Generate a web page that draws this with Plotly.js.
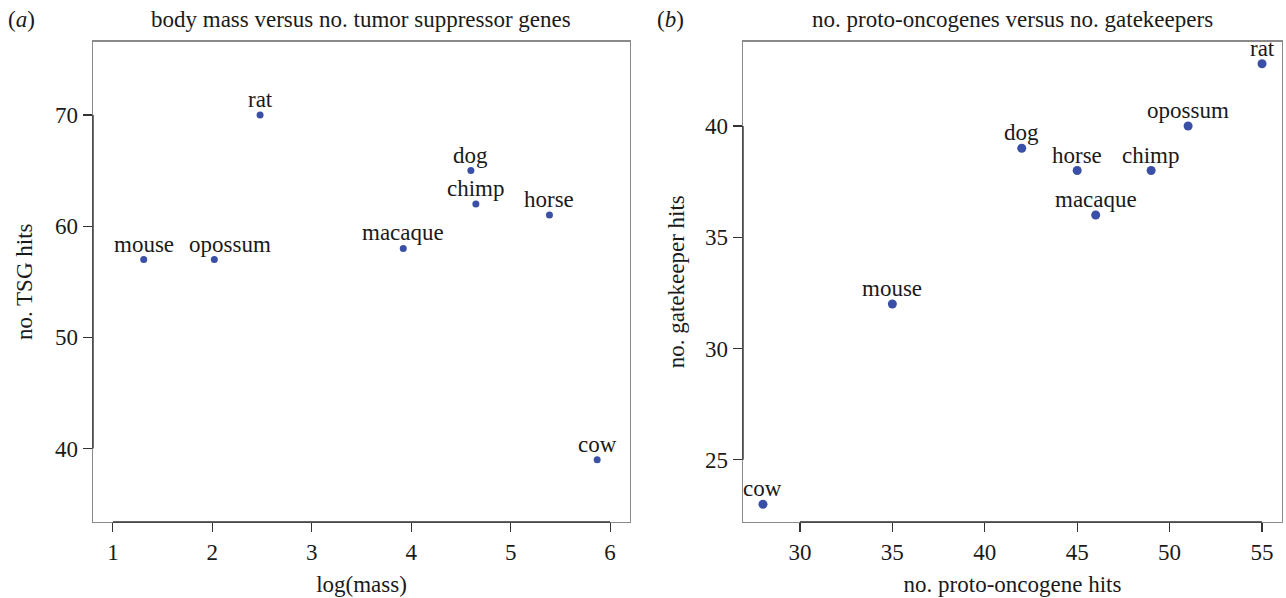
<!DOCTYPE html>
<html>
<head>
<meta charset="utf-8">
<script src="https://cdn.plot.ly/plotly-3.0.1.min.js"></script>
<style>html,body{margin:0;padding:0;background:#fff;}#chart{width:1286px;height:598px;}</style>
</head>
<body>
<div id="chart"></div>
<script>
// ---- data ----
const species = ['mouse', 'opossum', 'rat', 'macaque', 'dog', 'chimp', 'horse', 'cow'];
const logMass = [1.31, 2.02, 2.48, 3.92, 4.60, 4.65, 5.39, 5.87];
const tsgHits = [57, 57, 70, 58, 65, 62, 61, 39];
const protoOncogeneHits = [35, 51, 55, 46, 42, 49, 45, 28];
const gatekeeperHits = [32, 40, 42.8, 36, 39, 38, 38, 23];

const leftXTicks = [1, 2, 3, 4, 5, 6];
const leftYTicks = [40, 50, 60, 70];
const rightXTicks = [30, 35, 40, 45, 50, 55];
const rightYTicks = [25, 30, 35, 40];

const panelTitles = ['body mass versus no. tumor suppressor genes', 'no. proto-oncogenes versus no. gatekeepers'];
const panelTags = ['(<i>a</i>)', '(<i>b</i>)'];
const axisTitles = {
  x1: 'log(mass)', y1: 'no. TSG hits',
  x2: 'no. proto-oncogene hits', y2: 'no. gatekeeper hits'
};

// ---- styles ----
const FONT = "'Liberation Serif', 'Times New Roman', serif";
const TXT = '#1a1a1a';
const DOT = '#3a50a6';
const FS = 23;
// horizontal label nudges (pixels) so neighbouring labels do not collide
const leftLabelShift = [0, 16, 0, 0, 0, 0, 0, 0];
const rightLabelShift = [0, 0, 0, 0, 0, 0, 0, 0];

const W = 1286, H = 598;
const leftDom = [93 / W, 630 / W];
const rightDom = [743 / W, 1282 / W];
const yDom = [(H - 522) / H, (H - 41.5) / H];

const traces = [
  {
    x: logMass, y: tsgHits, xaxis: 'x', yaxis: 'y',
    type: 'scatter', mode: 'markers',
    marker: {color: DOT, size: 7}, cliponaxis: false, hoverinfo: 'skip'
  },
  {
    x: protoOncogeneHits, y: gatekeeperHits, xaxis: 'x2', yaxis: 'y2',
    type: 'scatter', mode: 'markers',
    marker: {color: DOT, size: 9}, cliponaxis: false, hoverinfo: 'skip'
  }
];

function pointLabels(xs, ys, xref, yref, shifts) {
  return species.map((s, i) => ({
    text: s, x: xs[i], y: ys[i], xref: xref, yref: yref,
    showarrow: false, xanchor: 'center', yanchor: 'bottom', yshift: 1, xshift: shifts[i],
    font: {family: FONT, size: FS, color: TXT}
  }));
}

function axis(dom, range, ticks, title, anchor, standoff) {
  return {
    domain: dom, range: range, anchor: anchor,
    tickmode: 'array', tickvals: ticks, ticktext: ticks.map(String),
    ticks: 'outside', ticklen: 9, tickwidth: 1.2, tickcolor: '#333',
    showgrid: false, zeroline: false,
    showline: true, linecolor: '#8a8a8a', linewidth: 1.4, mirror: true,
    tickfont: {family: FONT, size: FS, color: TXT},
    title: {text: title, font: {family: FONT, size: FS, color: TXT}, standoff: standoff}
  };
}

const topAnn = (text, x, xanchor) => ({
  text: text, xref: 'paper', yref: 'paper', x: x, y: 1 - 20 / H,
  showarrow: false, xanchor: xanchor, yanchor: 'middle', font: {family: FONT, size: FS, color: TXT}
});

const layout = {
  width: W, height: H,
  margin: {l: 0, r: 0, t: 0, b: 0},
  paper_bgcolor: '#fff', plot_bgcolor: '#fff',
  showlegend: false,
  xaxis: axis(leftDom, [0.8, 6.2], leftXTicks, axisTitles.x1, 'y', 12),
  yaxis: axis(yDom, [33.4, 76.6], leftYTicks, axisTitles.y1, 'x', 16),
  xaxis2: axis(rightDom, [26.92, 56.08], rightXTicks, axisTitles.x2, 'y2', 12),
  yaxis2: axis(yDom, [22.2, 43.8], rightYTicks, axisTitles.y2, 'x2', 14),
  annotations: [
    topAnn(panelTitles[0], (leftDom[0] + leftDom[1]) / 2, 'center'),
    topAnn(panelTitles[1], (rightDom[0] + rightDom[1]) / 2, 'center'),
    topAnn(panelTags[0], 6 / W, 'left'),
    topAnn(panelTags[1], 655 / W, 'left')
  ].concat(pointLabels(logMass, tsgHits, 'x', 'y', leftLabelShift))
   .concat(pointLabels(protoOncogeneHits, gatekeeperHits, 'x2', 'y2', rightLabelShift)),
  shapes: [
    // darker axis segments between first and last tick (as in base R axes)
    {type: 'line', xref: 'x', yref: 'paper', x0: leftXTicks[0], x1: leftXTicks[leftXTicks.length - 1], y0: yDom[0], y1: yDom[0], line: {color: '#333', width: 1.4}},
    {type: 'line', xref: 'paper', yref: 'y', x0: leftDom[0], x1: leftDom[0], y0: leftYTicks[0], y1: leftYTicks[leftYTicks.length - 1], line: {color: '#333', width: 1.4}},
    {type: 'line', xref: 'x2', yref: 'paper', x0: rightXTicks[0], x1: rightXTicks[rightXTicks.length - 1], y0: yDom[0], y1: yDom[0], line: {color: '#333', width: 1.4}},
    {type: 'line', xref: 'paper', yref: 'y2', x0: rightDom[0], x1: rightDom[0], y0: rightYTicks[0], y1: rightYTicks[rightYTicks.length - 1], line: {color: '#333', width: 1.4}}
  ]
};

Plotly.newPlot('chart', traces, layout, {staticPlot: true, displayModeBar: false});
</script>
</body>
</html>
